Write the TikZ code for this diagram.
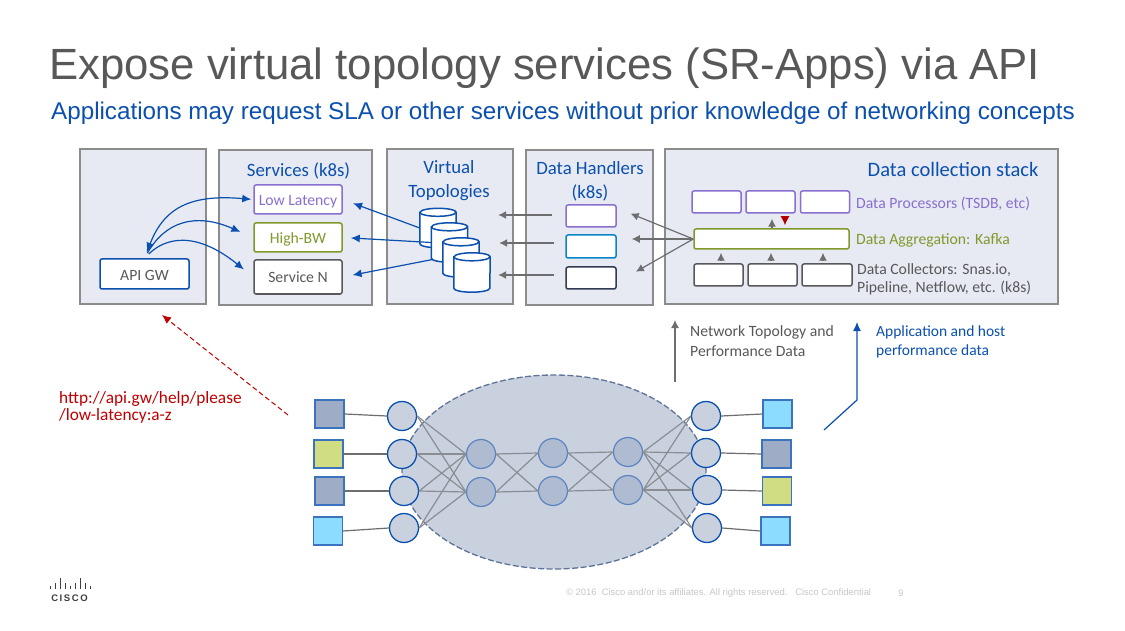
\documentclass[tikz,border=0pt]{standalone}
\usepackage{fontspec}
\setmainfont{Carlito}
\newfontfamily\arialfont{Liberation Sans}
\usetikzlibrary{arrows.meta}
\usetikzlibrary{shapes.geometric}
\definecolor{ciscoBlue}{HTML}{0B50AF}
\definecolor{panelFill}{HTML}{E7EAF2}
\definecolor{panelLine}{HTML}{8C8C8C}
\definecolor{textGray}{HTML}{58585B}
\definecolor{arrowGray}{HTML}{6E6E70}
\definecolor{edgeGray}{HTML}{8A8D93}
\definecolor{procPurple}{HTML}{8A6FD0}
\definecolor{aggOlive}{HTML}{7F9A2B}
\definecolor{hostBlue}{HTML}{9FACC6}
\definecolor{hostGreen}{HTML}{D0DD82}
\definecolor{hostCyan}{HTML}{8CDCFF}
\definecolor{cloudFill}{HTML}{C9D1DF}
\definecolor{cloudLine}{HTML}{5F7398}
\definecolor{routerFill}{HTML}{AEBBD0}
\definecolor{darkSlate}{HTML}{303A52}
\newcommand{\dbNode}[3]{%
\node[dbStyle] (#1) at (#2,#3) {};
\draw[dbLine, fill = white] ([yshift = -4pt]#1.north west) -- ([yshift = 4pt]#1.south west) arc[start angle = 180, end angle = 360, x radius = 18pt, y radius = 4pt] -- ([yshift = -4pt]#1.north east) arc[start angle = 0, end angle = 180, x radius = 18pt, y radius = 4pt] -- cycle;
\draw[dbLine] ([yshift = -4pt]#1.north west) arc[start angle = 180, end angle = 360, x radius = 18pt, y radius = 4pt];
}

\begin{document}
\begin{tikzpicture}[x = 1pt, y = -1pt, font=\fontsize{15.7}{19}\selectfont]
\tikzstyle{panelStyle} = [draw = panelLine, fill = panelFill, line width = 1.3pt]
\tikzstyle{boxStyle} = [draw, fill = white, line width = 1.5pt, rounded corners = 2pt, inner sep = 0pt, text = textGray, text height = 12pt, text depth = 0pt]
\tikzstyle{headStyle} = [text = ciscoBlue, align = center, font = \fontsize{18.8}{24}\selectfont]
\tikzstyle{noteStyle} = [anchor = west, inner sep = 0pt, align = left]
\tikzstyle{dbStyle} = [minimum width = 36pt, minimum height = 39pt, inner sep = 0pt]
\tikzstyle{dbLine} = [draw = ciscoBlue, line width = 1.5pt]
\tikzstyle{blueArrow} = [draw = ciscoBlue, line width = 1.2pt, -{Latex[length = 9pt, width = 8pt]}]
\tikzstyle{grayArrow} = [draw = arrowGray, line width = 1.2pt, -{Latex[length = 8pt, width = 8pt]}]
\tikzstyle{hostStyle} = [draw = ciscoBlue!80, line width = 1.3pt, minimum width = 29pt, minimum height = 28pt, inner sep = 0pt]
\tikzstyle{edgeStyle} = [draw = edgeGray, line width = 1.2pt]
\tikzstyle{linkStyle} = [draw = arrowGray, line width = 1.2pt]
\tikzstyle{leafStyle} = [shape = circle, draw = ciscoBlue, fill = cloudFill, line width = 1.3pt, minimum size = 29pt, inner sep = 0pt]
\tikzstyle{coreStyle} = [shape = circle, draw = ciscoBlue!50!routerFill, fill = routerFill, line width = 1.2pt, minimum size = 29pt, inner sep = 0pt]
\useasboundingbox (0,0) rectangle (1125,631);
\fill[white] (0,0) rectangle (1125,631);

\node[anchor = base west, inner sep = 0pt, text = textGray, font = \arialfont\fontsize{43.7}{50}\selectfont] (title) at (49,79.5) {Expose virtual topology services (SR-Apps) via API};
\node[anchor = base west, inner sep = 0pt, text = ciscoBlue, font = \arialfont\fontsize{24.2}{27}\selectfont] (subtitle) at (51,119.5) {Applications may request SLA or other services without prior knowledge of networking concepts};

\draw[panelStyle] (80,149) rectangle (206,304);
\draw[panelStyle] (219,150) rectangle (372,305);
\draw[panelStyle] (387,149) rectangle (513,304);
\draw[panelStyle] (526,150) rectangle (653,305);
\draw[panelStyle] (665,149) rectangle (1058,304);

\node[headStyle] (servicesHead) at (298.5,170.5) {Services (k8s)};
\node[headStyle] (topoHead) at (449,181) {Virtual\\Topologies};
\node[headStyle] (handlersHead) at (590,181) {Data Handlers\\(k8s)};
\node[headStyle, anchor = east, font = \fontsize{20.5}{24}\selectfont] (stackHead) at (1042,169.5) {Data collection stack};

\node[boxStyle, draw = ciscoBlue, minimum width = 89pt, minimum height = 30pt] (api) at (144.5,274) {API GW};
\node[boxStyle, draw = procPurple, text = procPurple, minimum width = 88pt, minimum height = 29pt] (low) at (298,199.5) {Low Latency};
\node[boxStyle, draw = aggOlive, text = aggOlive, minimum width = 88pt, minimum height = 29pt] (high) at (298,237.5) {High-BW};
\node[boxStyle, draw = textGray, minimum width = 88pt, minimum height = 34pt] (serviceN) at (298,277) {Service N};

\dbNode{cylA}{438}{228}
\dbNode{cylB}{449.5}{242.5}
\dbNode{cylC}{461}{257.5}
\dbNode{cylD}{472}{272.5}

\node[boxStyle, draw = procPurple, minimum width = 50pt, minimum height = 22pt] (dhA) at (591,216) {};
\node[boxStyle, draw = ciscoBlue!70!cyan, minimum width = 50pt, minimum height = 23pt] (dhB) at (591,246.5) {};
\node[boxStyle, draw = darkSlate, minimum width = 50pt, minimum height = 22pt] (dhC) at (591,278) {};

\node[boxStyle, draw = procPurple, minimum width = 49pt, minimum height = 22pt] (procA) at (716.5,202) {};
\node[boxStyle, draw = procPurple, minimum width = 49pt, minimum height = 22pt] (procB) at (770.5,202) {};
\node[boxStyle, draw = procPurple, minimum width = 49pt, minimum height = 22pt] (procC) at (825,202) {};
\node[boxStyle, draw = aggOlive, minimum width = 155pt, minimum height = 20pt] (agg) at (771.5,239) {};
\node[boxStyle, draw = textGray, minimum width = 49pt, minimum height = 22pt] (colA) at (718.5,275) {};
\node[boxStyle, draw = textGray, minimum width = 49pt, minimum height = 22pt] (colB) at (772.5,275) {};
\node[boxStyle, draw = textGray, minimum width = 50pt, minimum height = 22pt] (colC) at (827,275) {};

\node[noteStyle, text = procPurple] (procText) at (856,204) {Data Processors (TSDB, etc)};
\node[noteStyle, text = aggOlive] (aggText) at (856,240) {Data Aggregation: Kafka};
\node[noteStyle, text = textGray, font = \fontsize{15.7}{18}\selectfont] (colText) at (857,279.5) {Data Collectors: Snas.io,\\Pipeline, Netflow, etc. (k8s)};

\draw[blueArrow, {Latex[length = 10pt, width = 8pt]}-{Latex[length = 9pt, width = 8pt]}, shorten < = 6pt, shorten > = 2pt] (api.north) .. controls (164,208) and (190,194) .. (low.west);
\draw[blueArrow, shorten < = 6pt, shorten > = 14pt] (api.north) .. controls (165,222) and (195,212) .. (high.west);
\draw[blueArrow, shorten < = 6pt, shorten > = 12pt] (api.north) .. controls (165,238) and (195,230) .. (serviceN.west);

\draw[blueArrow, shorten > = 11pt] (cylA.west) -- (low.east);
\draw[blueArrow, shorten > = 8pt] (cylB.west) -- (high.east);
\draw[blueArrow, shorten < = 10pt, shorten > = 10pt] (cylC.west) -- (serviceN.east);

\draw[grayArrow, shorten < = 13pt, shorten > = 8pt] ([yshift = 1pt]dhA.west) -- ([yshift = 1pt]dhA.west -| cylD.east);
\draw[grayArrow, shorten < = 11pt, shorten > = 9pt] ([yshift = 3.5pt]dhB.west) -- ([yshift = 3.5pt]dhB.west -| cylD.east);
\draw[grayArrow, shorten < = 11pt, shorten > = 8pt] ([yshift = 3pt]dhC.west) -- ([yshift = 3pt]dhC.west -| cylD.east);

\draw[grayArrow, shorten > = 15pt] (agg.west) -- ([yshift = 8pt]dhA.east);
\draw[grayArrow, shorten > = 15pt] (agg.west) -- ([yshift = 7.5pt]dhB.east);
\draw[grayArrow, shorten > = 22pt] (agg.west) -- ([yshift = -4.6pt]dhC.east);

\draw[grayArrow, shorten > = 5pt] ([xshift = 0.5pt]agg.north) -- ([xshift = 1.5pt]procB.south);
\draw[draw = red!70!black, line width = 1.2pt, -{Latex[length = 9pt, width = 9pt]}, shorten < = 3pt, shorten > = 3pt] ([xshift = 14.5pt]procB.south) -- ([xshift = 13.5pt]agg.north);
\draw[grayArrow, shorten < = 2pt, shorten > = 3pt] ([xshift = 2.5pt]colA.north) -- ([xshift = 2.5pt]colA.north |- agg.south);
\draw[grayArrow, shorten < = 2pt, shorten > = 3pt] ([xshift = -1.5pt]colB.north) -- ([xshift = -1.5pt]colB.north |- agg.south);
\draw[grayArrow, shorten < = 2pt, shorten > = 3pt] ([xshift = -4pt]colC.north) -- ([xshift = -4pt]colC.north |- agg.south);

\node[noteStyle, text = textGray, font = \fontsize{15.7}{19.5}\selectfont] (topoText) at (690,341) {Network Topology and\\Performance Data};
\node[noteStyle, text = ciscoBlue, font = \fontsize{15.5}{19.5}\selectfont] (hostText) at (876,342) {Application and host\\performance data};
\node[noteStyle, text = red!75!black, font = \fontsize{17.3}{17}\selectfont] (urlText) at (59,407) {http://api.gw/help/please\\/low-latency:a-z};

\coordinate (urlFrom) at (288,415);
\coordinate (urlTo) at (162,315);
\coordinate (topoFrom) at (675,382);
\coordinate (topoTo) at (675,320);
\coordinate (hostFrom) at (824,430);
\coordinate (hostBend) at (857,400);
\coordinate (hostTo) at (857,322);
\draw[draw = red!75!black, line width = 1pt, dash pattern = on 5pt off 3pt, -{Latex[length = 9pt, width = 8pt]}] (urlFrom) -- (urlTo);
\draw[grayArrow] (topoFrom) -- (topoTo);
\draw[blueArrow] (hostFrom) -- (hostBend) -- (hostTo);

\node[shape = ellipse, draw = cloudLine, fill = cloudFill, dash pattern = on 6pt off 2.5pt, line width = 1.3pt, minimum width = 304pt, minimum height = 194pt, inner sep = 0pt] (cloud) at (554,472) {};

\node[hostStyle, fill = hostBlue] (hl1) at (329.5,414) {};
\node[hostStyle, fill = hostGreen] (hl2) at (328.5,454) {};
\node[hostStyle, fill = hostBlue] (hl3) at (329.5,491) {};
\node[hostStyle, fill = hostCyan] (hl4) at (328,531) {};
\node[hostStyle, fill = hostCyan] (hr1) at (777.5,414) {};
\node[hostStyle, fill = hostBlue] (hr2) at (776.5,454) {};
\node[hostStyle, fill = hostGreen] (hr3) at (777,491) {};
\node[hostStyle, fill = hostCyan] (hr4) at (775.5,531) {};

\node[leafStyle] (l1) at (402,416) {};
\node[leafStyle] (l2) at (402,454) {};
\node[leafStyle] (l3) at (404,491) {};
\node[leafStyle] (l4) at (404,528) {};
\node[leafStyle] (r1) at (706,416) {};
\node[leafStyle] (r2) at (706,453) {};
\node[leafStyle] (r3) at (707,490) {};
\node[leafStyle] (r4) at (707,528) {};

\node[coreStyle] (a1) at (481,454) {};
\node[coreStyle] (a2) at (481,492) {};
\node[coreStyle] (b1) at (553,453) {};
\node[coreStyle] (b2) at (553,491) {};
\node[coreStyle] (c1) at (628,452) {};
\node[coreStyle] (c2) at (628,490) {};

\foreach \i in {1,2,3,4} {
  \draw[linkStyle] (hl\i.east) -- (l\i.west);
  \draw[linkStyle] (r\i.east) -- (hr\i.west);
  \foreach \j in {1,2} {
    \draw[edgeStyle] (l\i.east) -- (a\j.west);
    \draw[edgeStyle] (c\j.east) -- (r\i.west);
  }
}
\foreach \i in {1,2} {
  \foreach \j in {1,2} {
    \draw[edgeStyle] (a\i.east) -- (b\j.west);
    \draw[edgeStyle] (b\i.east) -- (c\j.west);
  }
}

\foreach \k/\h in {0/3,1/6,2/11,3/6,4/3,5/6,6/11,7/6,8/3} {
  \fill[textGray!70!black] (49.5+\k*5,589) rectangle +(1.6,-\h);
}
\node[anchor = center, inner sep = 0pt, text = textGray!70!black, font = \arialfont\bfseries\fontsize{9.5}{11}\selectfont] (logoText) at (69.5,598.5) {C\,I\,S\,C\,O};

\node[anchor = west, inner sep = 0pt, text = black!22, font = \arialfont\fontsize{9.4}{11}\selectfont] (copyText) at (566,593) {© 2016\ \ Cisco and/or its affiliates. All rights reserved.\ \ \ Cisco Confidential};
\node[anchor = center, inner sep = 0pt, text = black!22, font = \arialfont\fontsize{9.4}{11}\selectfont] (pageText) at (901,593) {9};
\end{tikzpicture}
\end{document}
